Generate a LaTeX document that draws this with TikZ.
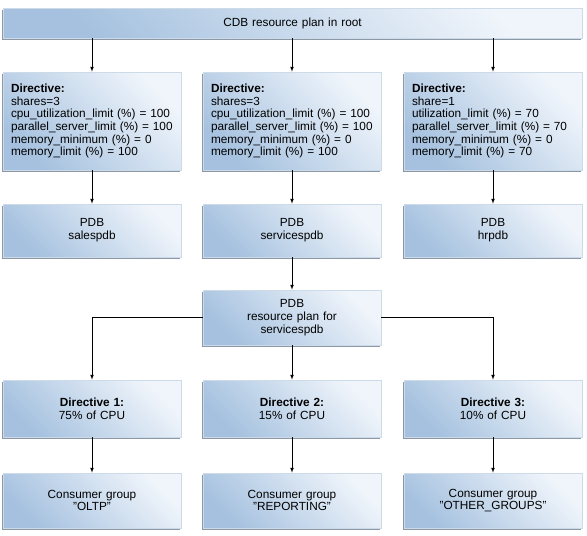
\documentclass[tikz,border=0pt]{standalone}
\usepackage{fontspec}
\setmainfont{Liberation Sans}
\usetikzlibrary{shadows}
\definecolor{boxdark}{RGB}{165,193,223}
\definecolor{boxlight}{RGB}{240,245,251}
\definecolor{boxline}{RGB}{205,218,232}
\definecolor{boxshadow}{RGB}{140,152,166}

\begin{document}
\begin{tikzpicture}[x=1pt,y=-1pt,>=latex,line width=0.7pt,
  box/.style={draw=boxline,line width=0.6pt,top color=boxlight,bottom color=boxdark,shading angle=-45,
    drop shadow={shadow xshift=-1.5pt,shadow yshift=-1.5pt,fill=boxshadow,opacity=1},
    inner xsep=8pt,inner ysep=0pt,text width=162pt,align=center,
    font=\fontsize{11.8}{12.7}\selectfont},
  dir/.style={box,align=left,minimum height=98pt},
  pdb/.style={box,minimum height=53pt}]
\useasboundingbox[fill=white] (0,0) rectangle (587,536);
\node[box,text width=563pt,minimum height=30pt] (root) at (292.5,23) {CDB resource plan in root};
\node[dir] (d1) at (92,121) {\textbf{Directive:}\\shares=3\\cpu\_utilization\_limit~(\%)~=~100\\parallel\_server\_limit~(\%)~=~100\\memory\_minimum (\%) = 0\\memory\_limit (\%) = 100};
\node[dir] (d2) at (292,121) {\textbf{Directive:}\\shares=3\\cpu\_utilization\_limit~(\%)~=~100\\parallel\_server\_limit~(\%)~=~100\\memory\_minimum (\%) = 0\\memory\_limit (\%) = 100};
\node[dir] (d3) at (493,121) {\textbf{Directive:}\\share=1\\utilization\_limit (\%) = 70\\parallel\_server\_limit~(\%)~=~70\\memory\_minimum (\%) = 0\\memory\_limit (\%) = 70};
\node[pdb] (p1) at (92,230.5) {PDB\\salespdb};
\node[pdb] (p2) at (292,230.5) {PDB\\servicespdb};
\node[pdb] (p3) at (493,230.5) {PDB\\hrpdb};
\draw[->] (d1.north |- root.south) -- (d1); \draw[->] (d2.north |- root.south) -- (d2);
\draw[->] (d3.north |- root.south) -- (d3);
\draw[->] (d1) -- (p1); \draw[->] (d2) -- (p2); \draw[->] (d3) -- (p3);
\node[box,minimum height=55pt] (plan) at (292,317.5) {PDB\\resource plan for\\servicespdb};
\draw[->] (p2) -- (plan);
\node[box,minimum height=57pt] (g1) at (92,408.5) {\textbf{Directive 1:}\\75\% of CPU};
\node[box,minimum height=57pt] (g2) at (292,408.5) {\textbf{Directive 2:}\\15\% of CPU};
\node[box,minimum height=57pt] (g3) at (493,408.5) {\textbf{Directive 3:}\\10\% of CPU};
\draw[->] (plan.west) -| (g1); \draw[->] (plan) -- (g2); \draw[->] (plan.east) -| (g3);
\node[box,minimum height=55pt] (c1) at (92,500.5) {Consumer group\\"OLTP"};
\node[box,minimum height=55pt] (c2) at (292,500.5) {Consumer group\\"REPORTING"};
\node[box,minimum height=55pt] (c3) at (493,500.5) {Consumer group\\"OTHER\_GROUPS"};
\draw[->] (g1) -- (c1); \draw[->] (g2) -- (c2); \draw[->] (g3) -- (c3);
\end{tikzpicture}
\end{document}
